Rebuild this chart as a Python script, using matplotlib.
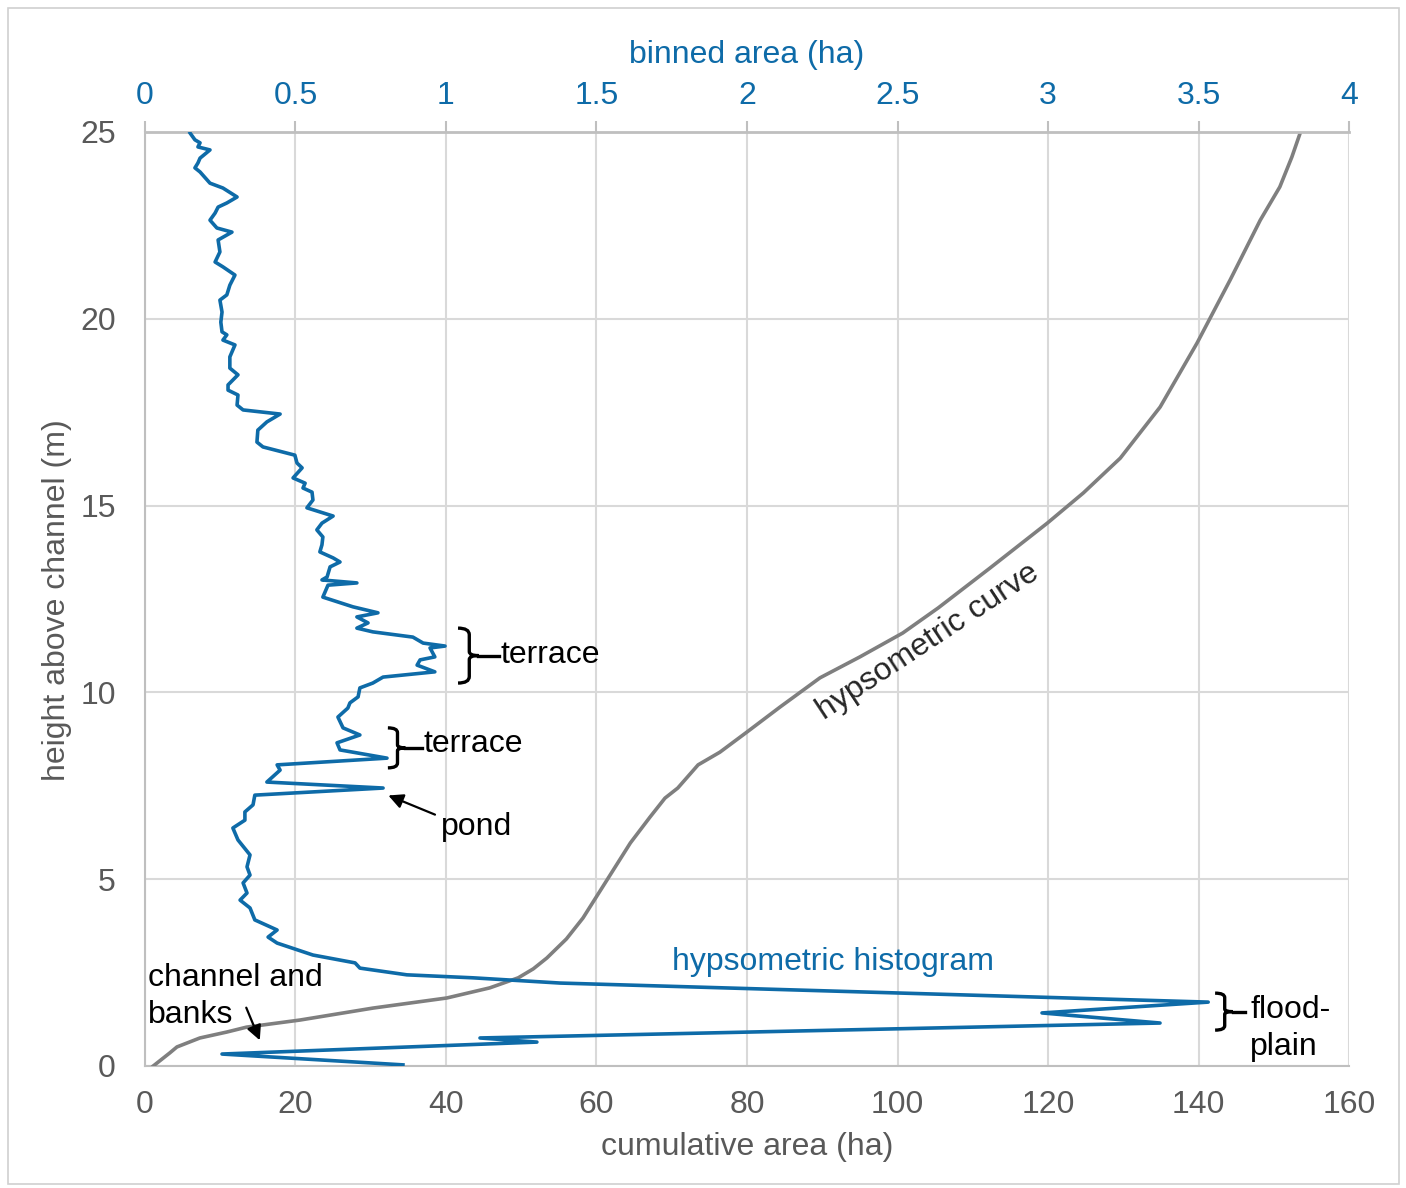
import numpy as np
import matplotlib
matplotlib.use("Agg")
import matplotlib.pyplot as plt
from matplotlib.path import Path
from matplotlib.patches import PathPatch, Rectangle

plt.rcParams['font.family'] = ['Liberation Sans', 'DejaVu Sans']

# Hypsometric histogram: height above channel (m) vs binned area (ha)
hist_height = [0.03, 0.32, 0.64, 0.75, 1.15, 1.42, 1.71, 2.22, 2.36, 2.44, 2.62, 2.76, 2.97,
               3.29, 3.45, 3.64, 3.91, 4.23, 4.44, 4.63, 4.90, 5.11, 5.33, 5.65, 6.05, 6.37,
               6.58, 6.80, 6.99, 7.25, 7.44, 7.60, 7.92, 8.06, 8.24, 8.46, 8.65, 8.86, 9.05,
               9.34, 9.58, 9.72, 9.88, 10.12, 10.25, 10.41, 10.55, 10.73, 10.87, 10.95, 11.19,
               11.24, 11.32, 11.48, 11.62, 11.72, 11.86, 12.02, 12.13, 12.29, 12.55, 12.87,
               12.93, 13.01, 13.09, 13.36, 13.49, 13.60, 13.76, 13.95, 14.16, 14.35, 14.53,
               14.72, 14.94, 15.15, 15.36, 15.47, 15.60, 15.74, 16.01, 16.14, 16.35, 16.57,
               16.70, 17.02, 17.24, 17.45, 17.56, 17.69, 17.96, 18.09, 18.23, 18.50, 18.68,
               18.98, 19.30, 19.43, 19.57, 19.65, 19.91, 20.18, 20.50, 20.64, 20.90, 21.17,
               21.39, 21.52, 21.79, 22.11, 22.32, 22.43, 22.64, 22.83, 22.99, 23.10, 23.26,
               23.50, 23.63, 23.93, 24.04, 24.17, 24.30, 24.52, 24.60, 24.71, 24.79, 24.97]
hist_area = [0.857, 0.256, 1.302, 1.113, 3.372, 2.980, 3.532, 1.379, 1.090, 0.870, 0.714,
             0.698, 0.558, 0.439, 0.409, 0.439, 0.365, 0.349, 0.316, 0.339, 0.326, 0.349,
             0.339, 0.349, 0.309, 0.292, 0.332, 0.332, 0.359, 0.365, 0.791, 0.405, 0.449,
             0.439, 0.804, 0.648, 0.638, 0.714, 0.658, 0.641, 0.674, 0.681, 0.708, 0.714,
             0.757, 0.791, 0.963, 0.904, 0.914, 0.963, 0.947, 0.997, 0.924, 0.890, 0.757,
             0.704, 0.741, 0.704, 0.774, 0.691, 0.591, 0.608, 0.704, 0.588, 0.605, 0.615,
             0.648, 0.625, 0.581, 0.588, 0.591, 0.571, 0.588, 0.625, 0.538, 0.558, 0.555,
             0.525, 0.532, 0.492, 0.522, 0.505, 0.498, 0.392, 0.372, 0.375, 0.405, 0.449,
             0.326, 0.306, 0.309, 0.276, 0.276, 0.309, 0.282, 0.282, 0.299, 0.259, 0.272,
             0.256, 0.252, 0.256, 0.249, 0.272, 0.282, 0.299, 0.259, 0.233, 0.249, 0.243,
             0.289, 0.239, 0.216, 0.233, 0.243, 0.272, 0.306, 0.259, 0.216, 0.183, 0.166,
             0.176, 0.183, 0.216, 0.176, 0.183, 0.166, 0.150]

# Hypsometric curve: height above channel (m) vs cumulative area (ha)
curve_height = [0.0, 0.35, 0.51, 0.75, 0.91, 1.04, 1.23, 1.55, 1.82, 2.09, 2.36, 2.60, 2.89,
                3.40, 3.96, 4.98, 5.97, 6.66, 7.17, 7.44, 8.06, 8.40, 8.94, 9.61, 10.39,
                10.95, 11.59, 12.26, 13.33, 14.53, 15.34, 16.27, 17.64, 19.35, 21.04, 22.64,
                23.53, 24.33, 24.97]
curve_area = [1.1, 3.3, 4.25, 7.3, 10.9, 13.5, 20.6, 30.3, 40.1, 45.8, 49.6, 51.6, 53.4,
              56.0, 58.2, 61.4, 64.5, 67.1, 69.1, 70.8, 73.5, 76.4, 80.0, 84.4, 89.7,
              95.0, 100.7, 105.4, 112.3, 119.9, 124.7, 129.6, 134.9, 139.8, 144.2, 148.2,
              150.8, 152.4, 153.5]

bottom_ticks = [0, 20, 40, 60, 80, 100, 120, 140, 160]
top_ticks = [0, 0.5, 1, 1.5, 2, 2.5, 3, 3.5, 4]
top_tick_labels = ['0', '0.5', '1', '1.5', '2', '2.5', '3', '3.5', '4']
y_ticks = [0, 5, 10, 15, 20, 25]

BLUE = '#0e6ba8'
GRAY_LINE = '#7f7f7f'
TICK_GRAY = '#595959'
GRID = '#d9d9d9'
FS = 23

fig = plt.figure(figsize=(14.06, 11.88), dpi=100)
fig.patches.append(Rectangle((0.006, 0.003), 0.989, 0.990, transform=fig.transFigure,
                             fill=False, edgecolor='#d0d0d0', linewidth=1.2))
ax = fig.add_axes([0.1031, 0.1027, 0.8564, 0.7862])
ax2 = ax.twiny()

# bottom axis: cumulative area
ax.set_xlim(0, 160)
ax.set_ylim(0, 25)
ax.set_xticks(bottom_ticks)
ax.set_yticks(y_ticks)
ax.grid(True, color=GRID, linewidth=1.5)
ax.set_axisbelow(True)
ax.tick_params(axis='both', labelsize=FS, colors=TICK_GRAY, length=0)
ax.tick_params(axis='x', pad=17)
ax.tick_params(axis='y', pad=21)
ax.set_xlabel('cumulative area (ha)', fontsize=FS, color=TICK_GRAY)
ax.set_ylabel('height above channel (m)', fontsize=FS, color=TICK_GRAY)
ax.xaxis.set_label_coords(0.5, -0.0867)
ax.xaxis.label.set_va('center')
ax.yaxis.set_label_coords(-0.0731, 0.499)
ax.yaxis.label.set_va('center')
for s in ['left', 'bottom']:
    ax.spines[s].set_color('#bfbfbf')
    ax.spines[s].set_linewidth(1.5)
for s in ['right', 'top']:
    ax.spines[s].set_visible(False)

# top axis: binned area
ax2.set_xlim(0, 4)
ax2.set_xticks(top_ticks)
ax2.set_xticklabels(top_tick_labels)
ax2.tick_params(axis='x', labelsize=FS, labelcolor=BLUE, color='#bfbfbf',
                length=8, width=1.5, pad=7)
ax2.set_xlabel('binned area (ha)', fontsize=FS, color=BLUE)
ax2.xaxis.set_label_coords(0.5, 1.0824)
ax2.xaxis.label.set_va('center')
ax2.spines['top'].set_color('#bfbfbf')
ax2.spines['top'].set_linewidth(2)
for s in ['left', 'bottom', 'right']:
    ax2.spines[s].set_visible(False)

ax.plot(curve_area, curve_height, color=GRAY_LINE, linewidth=2.6, solid_joinstyle='round', zorder=3)
ax2.plot(hist_area, hist_height, color=BLUE, linewidth=2.6, solid_joinstyle='round', zorder=4)


def brace(axis, x0, y_top, y_bot, w, tail):
    """Right-facing curly brace in data coordinates, with a short tail at its tip."""
    ym = 0.5 * (y_top + y_bot)
    xm = x0 + w * 0.55
    r = (y_top - y_bot) * 0.12
    verts = [(x0, y_top), (xm, y_top), (xm, y_top - r),
             (xm, ym + r * 0.6), (xm, ym), (x0 + w, ym),
             (xm, ym), (xm, ym - r * 0.6),
             (xm, y_bot + r), (xm, y_bot), (x0, y_bot)]
    codes = [Path.MOVETO, Path.CURVE3, Path.CURVE3,
             Path.LINETO, Path.CURVE3, Path.CURVE3,
             Path.CURVE3, Path.CURVE3,
             Path.LINETO, Path.CURVE3, Path.CURVE3]
    axis.add_patch(PathPatch(Path(verts, codes), fill=False, edgecolor='black',
                             linewidth=2.4, capstyle='butt', zorder=5))
    axis.plot([x0 + w, tail], [ym, ym], color='black', linewidth=2.4, zorder=5)


brace(ax2, 1.040, 11.72, 10.25, 0.068, 1.175)
ax2.text(1.180, 11.0, 'terrace', fontsize=FS, va='center', ha='left', color='black')

brace(ax2, 0.807, 9.05, 7.98, 0.058, 0.920)
ax2.text(0.924, 8.63, 'terrace', fontsize=FS, va='center', ha='left', color='black')

ax2.annotate('', xy=(0.800, 7.27), xytext=(0.972, 6.70),
             arrowprops=dict(arrowstyle='-|>', color='black', lw=1.6, mutation_scale=22))
ax2.text(0.983, 6.40, 'pond', fontsize=FS, va='center', ha='left', color='black')

ax2.text(0.01, 2.36, 'channel and', fontsize=FS, va='center', ha='left', color='black')
ax2.text(0.01, 1.37, 'banks', fontsize=FS, va='center', ha='left', color='black')
ax2.annotate('', xy=(0.385, 0.62), xytext=(0.333, 1.63),
             arrowprops=dict(arrowstyle='-|>', color='black', lw=1.6, mutation_scale=22))

ax2.text(2.286, 2.78, 'hypsometric histogram', fontsize=FS, va='center', ha='center', color=BLUE)
ax2.text(2.60, 11.35, 'hypsometric curve', fontsize=FS, va='center', ha='center',
         color='#262626', rotation=33.5, rotation_mode='anchor')

brace(ax2, 3.555, 1.95, 0.96, 0.058, 3.655)
ax2.text(3.672, 1.50, 'flood-', fontsize=FS, va='center', ha='left', color='black')
ax2.text(3.672, 0.51, 'plain', fontsize=FS, va='center', ha='left', color='black')

fig.savefig('out.png', dpi=100)
